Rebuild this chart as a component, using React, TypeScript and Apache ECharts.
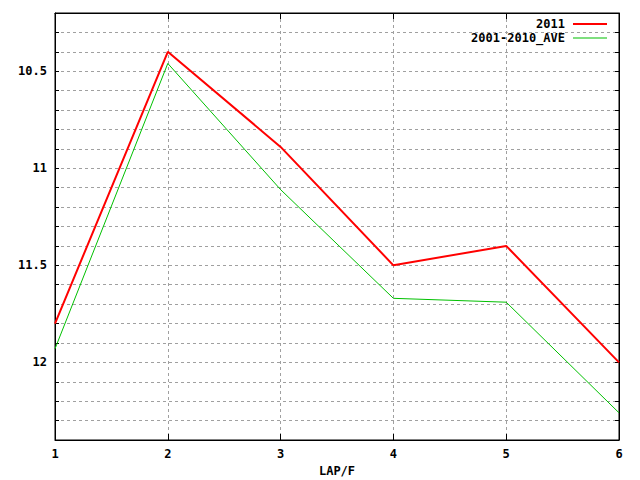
import React, { useEffect, useRef } from "react";
import * as echarts from "echarts";

const laps = ["1", "2", "3", "4", "5", "6"];
const series2011 = [11.8, 10.4, 10.89, 11.5, 11.4, 12.0];
const seriesAve = [11.93, 10.46, 11.11, 11.67, 11.69, 12.26];
const seriesNames = ["2011", "2001-2010_AVE"];
const yMin = 10.2;
const yMax = 12.4;
const xName = "LAP/F";

const FONT = "DejaVu Sans Mono";

export default function App() {
  const ref = useRef<HTMLDivElement>(null);
  useEffect(() => {
    if (!ref.current) return;
    const chart = echarts.init(ref.current, undefined, { renderer: "svg" });
    const gridLine = { show: true, lineStyle: { color: "#a0a0a0", type: [3, 3] as any, width: 1 } };
    const textStyle = { fontFamily: FONT, fontSize: 12, fontWeight: "bold" as any, color: "#000" };
    const legendBase = {
      right: 33,
      align: "right",
      itemWidth: 34,
      icon: "rect",
      padding: 0,
      textStyle: { ...textStyle, fontSize: 12, lineHeight: 11, height: 11, padding: [0, 3, 0, 0] },
      selectedMode: false,
    };
    chart.setOption({
      animation: false,
      backgroundColor: "#fff",
      textStyle: { fontFamily: FONT },
      grid: {
        left: 55,
        right: 21,
        top: 13,
        bottom: 40,
        show: true,
        borderColor: "#000",
        borderWidth: 1,
        containLabel: false,
        outerBoundsMode: "none",
      },
      legend: [
        { ...legendBase, data: [seriesNames[0]], top: 18, itemHeight: 2 },
        { ...legendBase, data: [seriesNames[1]], top: 32, itemHeight: 1 },
      ],
      xAxis: [
        {
          type: "category",
          data: laps,
          boundaryGap: false,
          name: xName,
          nameLocation: "middle",
          nameGap: 25,
          nameTextStyle: textStyle,
          axisLine: { show: true, lineStyle: { color: "#000" } },
          axisTick: { show: true, inside: true, length: 6, lineStyle: { color: "#000" } },
          axisLabel: { ...textStyle, margin: 8 },
          splitLine: gridLine,
        },
        {
          type: "category",
          data: laps,
          boundaryGap: false,
          position: "top",
          axisLine: { show: true, lineStyle: { color: "#000" } },
          axisTick: { show: true, inside: true, length: 6, lineStyle: { color: "#000" } },
          axisLabel: { show: false },
          splitLine: { show: false },
        },
      ],
      yAxis: [
        {
          type: "value",
          inverse: true,
          min: yMin,
          max: yMax,
          interval: 0.1,
          axisLine: { show: true, lineStyle: { color: "#000" } },
          axisTick: { show: true, inside: true, length: 4, lineStyle: { color: "#000" } },
          axisLabel: {
            ...textStyle,
            margin: 8,
            formatter: (v: number) => {
              const t = Math.round(v * 10);
              return t % 5 === 0 ? String(t / 10) : "";
            },
          },
          splitLine: gridLine,
        },
        {
          type: "value",
          inverse: true,
          min: yMin,
          max: yMax,
          interval: 0.1,
          position: "right",
          axisLine: { show: true, lineStyle: { color: "#000" } },
          axisTick: { show: true, inside: true, length: 4, lineStyle: { color: "#000" } },
          axisLabel: { show: false },
          splitLine: { show: false },
        },
      ],
      series: [
        {
          name: seriesNames[0],
          type: "line",
          data: series2011,
          symbol: "none",
          lineStyle: { color: "#ff0000", width: 2 },
          itemStyle: { color: "#ff0000" },
        },
        {
          name: seriesNames[1],
          type: "line",
          data: seriesAve,
          symbol: "none",
          lineStyle: { color: "#00c000", width: 1 },
          itemStyle: { color: "#00c000" },
        },
      ],
    });
    return () => chart.dispose();
  }, []);
  return (
    <div
      ref={ref}
      style={{ position: "fixed", left: 0, top: 0, width: 640, height: 480, background: "#fff" }}
    />
  );
}
